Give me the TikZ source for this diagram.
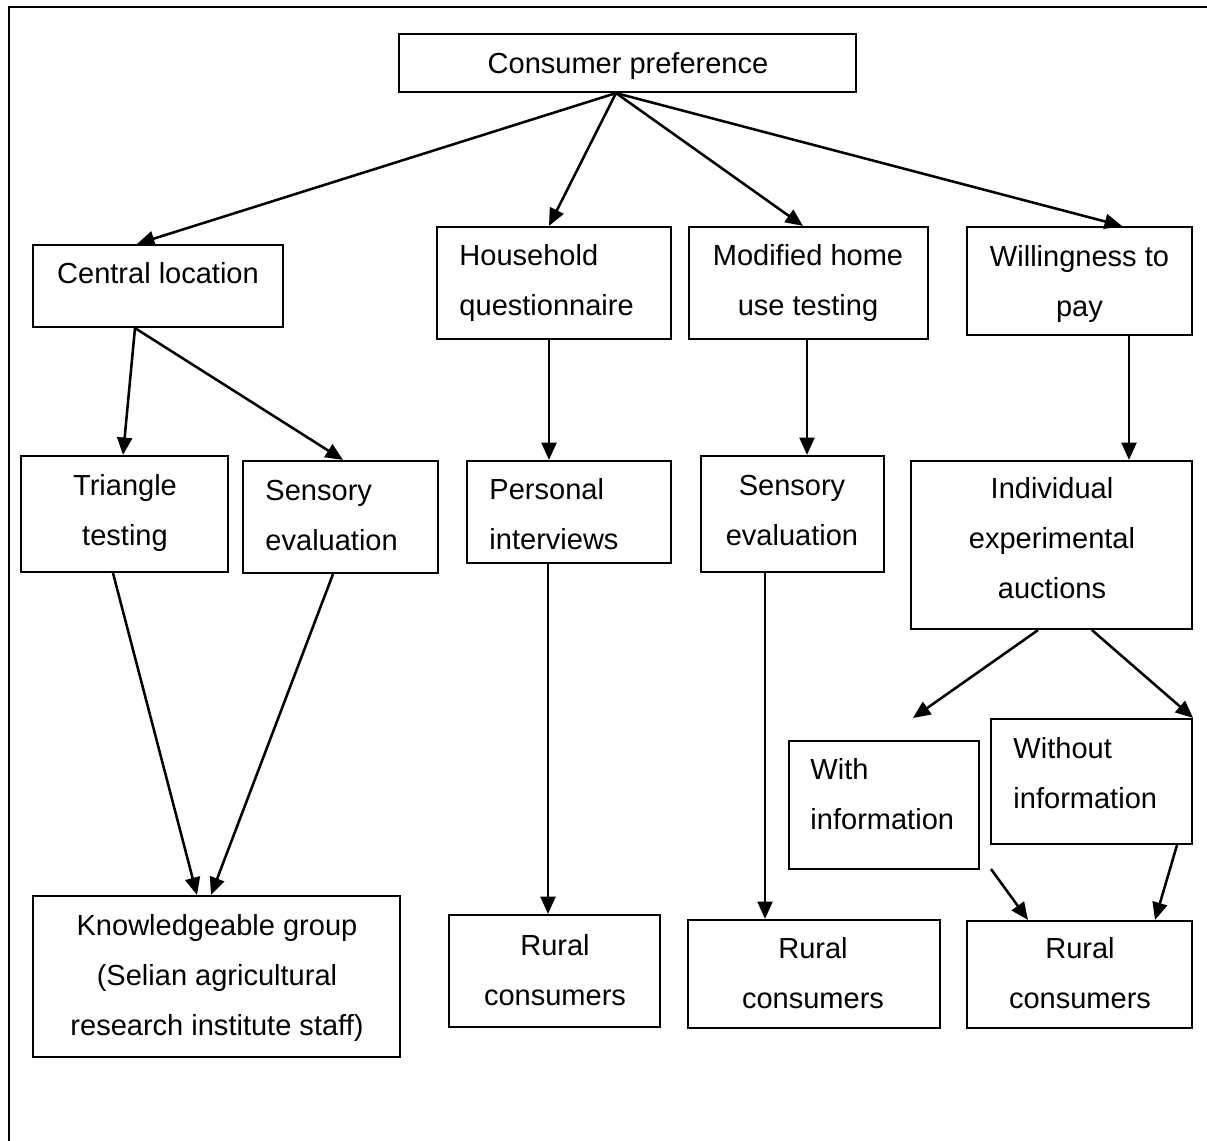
\documentclass[tikz,border=0pt]{standalone}
\usepackage{fontspec}
\setmainfont{Liberation Sans}
\usetikzlibrary{arrows.meta,fit}
\newcommand{\tl}[1]{\begin{tabular}[t]{@{}l@{}}#1\end{tabular}}
\newcommand{\tc}[1]{\begin{tabular}[t]{@{}c@{}}#1\end{tabular}}
\begin{document}
\begin{tikzpicture}[x=0.4135pt,y=-0.4135pt,
  box/.style={draw,line width=0.9pt,inner sep=0pt},
  txt/.style={inner sep=0pt,font=\fontsize{12}{20.7}\selectfont},
  arr/.style={line width=1.05pt,-{Triangle[length=7.2pt,width=6.2pt]}},
  frameline/.style={line width=1pt}]
\useasboundingbox (0,0) rectangle (1207,1140);
\draw[frameline] (9,1150) -- (9,7) -- (1215,7);

% boxes
\node[box,fit={(399,34)(856,92)}] (cp) {};
\node[box,fit={(33,245)(283,327)}] (cl) {};
\node[box,fit={(437,227)(671,339)}] (hq) {};
\node[box,fit={(689,227)(928,339)}] (mh) {};
\node[box,fit={(967,227)(1192,335)}] (wp) {};
\node[box,fit={(21,456)(228,572)}] (tt) {};
\node[box,fit={(243,461)(438,573)}] (se1) {};
\node[box,fit={(467,461)(671,563)}] (pi) {};
\node[box,fit={(701,456)(884,572)}] (se2) {};
\node[box,fit={(911,461)(1192,629)}] (ia) {};
\node[box,fit={(789,741)(979,869)}] (wi) {};
\node[box,fit={(991,719)(1192,844)}] (wo) {};
\node[box,fit={(33,896)(400,1057)}] (kg) {};
\node[box,fit={(449,915)(660,1027)}] (r1) {};
\node[box,fit={(688,920)(940,1028)}] (r2) {};
\node[box,fit={(967,921)(1192,1028)}] (r3) {};

% texts
\node[txt,anchor=base] (cp-t) at (628,73) {Consumer preference};
\node[txt,anchor=base] (cl-t) at (158,283) {Central location};
\node[txt,anchor=base west] (hq-t) at (459,265) {\tl{Household\\questionnaire}};
\node[txt,anchor=base] (mh-t) at (808,265) {\tc{Modified home\\use testing}};
\node[txt,anchor=base] (wp-t) at (1079.5,266) {\tc{Willingness to\\pay}};
\node[txt,anchor=base] (tt-t) at (125,495) {\tc{Triangle\\testing}};
\node[txt,anchor=base west] (se1-t) at (265,500) {\tl{Sensory\\evaluation}};
\node[txt,anchor=base west] (pi-t) at (489,499) {\tl{Personal\\interviews}};
\node[txt,anchor=base] (se2-t) at (792,495) {\tc{Sensory\\evaluation}};
\node[txt,anchor=base] (ia-t) at (1052,498) {\tc{Individual\\experimental\\auctions}};
\node[txt,anchor=base west] (wi-t) at (810,779) {\tl{With\\information}};
\node[txt,anchor=base west] (wo-t) at (1013,758) {\tl{Without\\information}};
\node[txt,anchor=base] (kg-t) at (217,935) {\tc{Knowledgeable group\\(Selian agricultural\\research institute staff)}};
\node[txt,anchor=base] (r1-t) at (555,955) {\tc{Rural\\consumers}};
\node[txt,anchor=base] (r2-t) at (813,958) {\tc{Rural\\consumers}};
\node[txt,anchor=base] (r3-t) at (1080,958) {\tc{Rural\\consumers}};

% free ends
\coordinate (wi-tip) at (913,718);
\coordinate (wi-out) at (991,869);

% connectors
\draw[arr] (cp.south -| 616,0) -- (cl.north -| 137,0);
\draw[arr] (cp.south -| 616,0) -- (hq.north -| 549,0);
\draw[arr] (cp.south -| 616,0) -- (mh.north -| 803,0);
\draw[arr] (cp.south -| 616,0) -- (wp.north -| 1122,0);
\draw[arr] (cl.south -| 135,0) -- (tt.north -| 123,0);
\draw[arr] (cl.south -| 135,0) -- (se1.north -| 343,0);
\draw[arr] (hq.south -| 549,0) -- (pi.north -| 549,0);
\draw[arr] (mh.south -| 807,0) -- (se2.north -| 807,0);
\draw[arr] (wp.south -| 1129,0) -- (ia.north -| 1129,0);
\draw[arr] (ia.south -| 1038,0) -- (wi-tip);
\draw[arr] (ia.south -| 1092,0) -- (wo.north east);
\draw[arr] (tt.south -| 113,0) -- (kg.north -| 197,0);
\draw[arr] (se1.south -| 333,0) -- (kg.north -| 211,0);
\draw[arr] (pi.south -| 548,0) -- (r1.north -| 548,0);
\draw[arr] (se2.south -| 765,0) -- (r2.north -| 765,0);
\draw[arr] (wi-out) -- (r3.north -| 1028,0);
\draw[arr] (wo.south -| 1177,0) -- (r3.north -| 1155,0);
\end{tikzpicture}
\end{document}
